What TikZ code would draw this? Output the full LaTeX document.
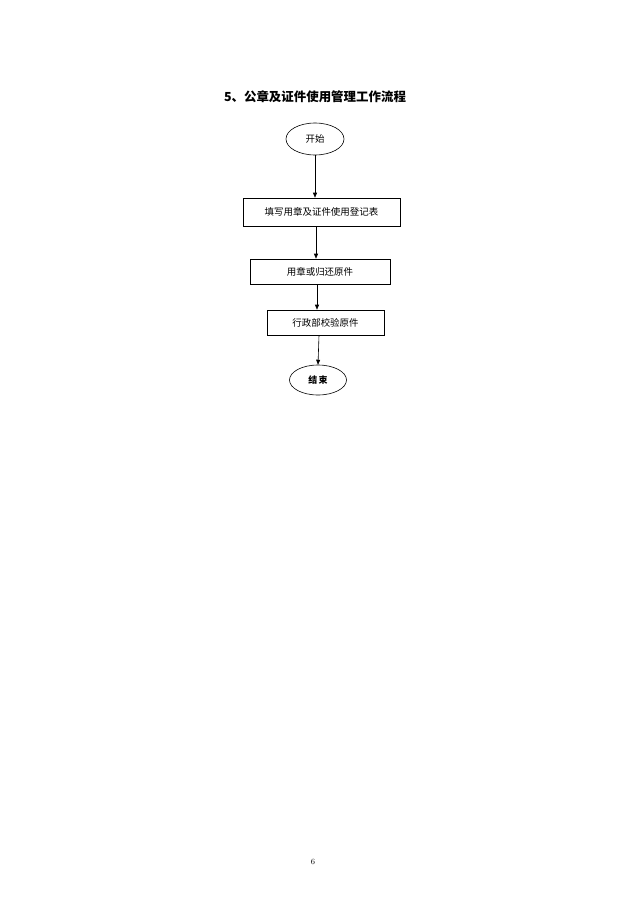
\documentclass[tikz,border=0pt]{standalone}
\usepackage{fontspec}
\newfontfamily\cjk{Noto Sans CJK SC}
\usetikzlibrary{shapes.geometric, arrows.meta, positioning}
\tikzset{
    stepbox/.style={draw, rectangle, line width=0.6pt, inner sep=0pt, font=\cjk\fontsize{9.5}{11}\selectfont},
    endpoint/.style={draw, ellipse, line width=0.6pt, inner sep=0pt, font=\cjk\fontsize{9.5}{11}\selectfont},
    flow/.style={-{Triangle[length=5pt,width=4pt]}, line width=0.6pt}
}
\begin{document}
\begin{tikzpicture}[x=1bp, y=-1bp]
    \useasboundingbox (0,0) rectangle (640,906);
    % Title
    \node[font=\cjk\bfseries\fontsize{12.5}{14}\selectfont] (title) at (315,97) {5、公章及证件使用管理工作流程};

    % Flow
    \node[endpoint, minimum width=58bp, minimum height=32bp] (start) at (315,139) {开始};
    \node[stepbox, minimum width=157bp, minimum height=28bp] (fill) at (321.5,212) {填写用章及证件使用登记表};
    \node[stepbox, minimum width=140bp, minimum height=25bp] (use) at (320,271.5) {用章或归还原件};
    \node[stepbox, minimum width=117bp, minimum height=25bp] (check) at (325.5,322.5) {行政部校验原件};
    \node[endpoint, minimum width=57bp, minimum height=30bp, font=\cjk\bfseries\fontsize{9}{11}\selectfont] (finish) at (318,380) {结\,束};

    \draw[flow] (start.south) -- (start.south |- fill.north);
    \draw[flow] ([xshift=-5.5bp]fill.south) -- ([xshift=-5.5bp]fill.south |- use.north);
    \draw[flow] ([xshift=-3bp]use.south) -- ([xshift=-3bp]use.south |- check.north);
    \draw[flow] ([xshift=-6.5bp]check.south) -- (finish.north);

    % Page number
    \node[font=\fontsize{8}{10}\selectfont] (page) at (313,862) {6};
\end{tikzpicture}
\end{document}
